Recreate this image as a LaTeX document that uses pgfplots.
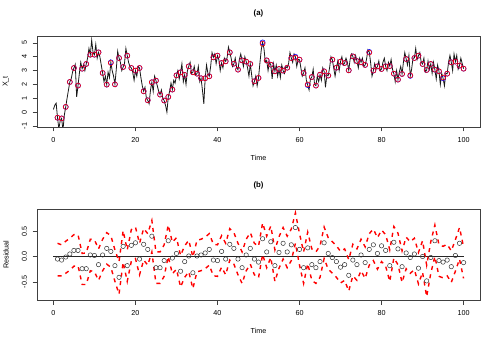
\documentclass[border=0pt]{standalone}
\usepackage{fontspec}
\setmainfont{Liberation Sans}
\usepackage{pgfplots}
\usepackage{pgfplotstable}
\pgfplotsset{compat=1.18}

% observed (blue) and filtered (red) values at integer times
\pgfplotstableread{
t blue red
1 -0.40 -0.40
2 -0.45 -0.45
3 0.38 0.38
4 2.18 2.18
5 3.19 3.19
6 1.92 1.92
7 3.14 3.14
8 3.48 3.48
9 4.15 4.15
10 4.15 4.15
11 4.32 4.32
12 2.83 2.83
13 1.99 1.99
14 3.60 3.55
15 2.01 2.01
16 3.91 3.91
17 3.26 3.26
18 4.08 4.08
19 3.19 3.19
20 3.00 3.00
21 3.19 3.19
22 1.51 1.51
23 0.86 0.86
24 2.16 2.16
25 2.28 2.28
26 1.27 1.27
27 0.84 0.84
28 1.10 1.10
29 1.63 1.63
30 2.66 2.66
31 2.88 2.88
32 2.69 2.69
33 3.31 3.31
34 2.88 2.88
35 2.78 2.78
36 2.45 2.45
37 2.45 2.45
38 2.59 2.59
39 3.96 3.96
40 4.08 4.08
41 3.55 3.55
42 3.67 3.67
43 4.32 4.32
44 3.50 3.50
45 3.07 3.07
46 3.74 3.74
47 3.65 3.65
48 3.48 3.48
49 2.23 2.23
50 2.47 2.47
51 5.04 4.94
52 3.74 3.74
53 3.43 3.43
54 2.95 2.95
55 3.12 3.12
56 3.00 3.00
57 3.21 3.21
58 3.91 3.91
59 4.00 3.94
60 3.79 3.79
61 2.83 2.83
62 1.95 2.00
63 2.54 2.54
64 1.92 1.92
65 2.71 2.71
66 2.95 2.95
67 2.64 2.64
68 3.79 3.79
69 3.21 3.21
70 3.65 3.65
71 3.55 3.55
72 3.02 3.02
73 4.03 4.03
74 3.69 3.69
75 3.60 3.60
76 3.41 3.41
77 4.35 4.30
78 3.00 3.00
79 3.31 3.31
80 3.12 3.12
81 3.31 3.31
82 3.33 3.33
83 2.78 2.78
84 2.35 2.35
85 2.76 2.76
86 3.84 3.84
87 2.62 2.66
88 3.91 3.91
89 4.08 4.08
90 3.48 3.48
91 3.05 3.05
92 3.48 3.48
93 3.07 3.07
94 2.95 2.95
95 2.45 2.50
96 2.78 2.78
97 3.60 3.60
98 3.65 3.65
99 3.36 3.36
100 3.14 3.14
}\circtab

% residuals with upper and lower bands
\pgfplotstableread{
t r u l
1 -0.05 0.26 -0.38
2 -0.07 0.23 -0.38
3 -0.01 0.30 -0.33
4 0.05 0.36 -0.27
5 0.12 0.43 -0.19
6 0.12 0.43 -0.18
7 -0.24 0.06 -0.55
8 -0.24 0.07 -0.55
9 0.03 0.34 -0.28
10 0.02 0.33 -0.30
11 -0.16 0.15 -0.47
12 0.03 0.34 -0.28
13 0.16 0.47 -0.15
14 0.10 0.41 -0.21
15 -0.18 0.13 -0.49
16 -0.41 -0.10 -0.74
17 0.20 0.51 -0.11
18 -0.18 0.13 -0.49
19 0.22 0.53 -0.09
20 0.27 0.58 -0.04
21 -0.05 0.26 -0.36
22 0.24 0.55 -0.07
23 0.14 0.45 -0.17
24 0.40 0.71 0.09
25 -0.22 0.09 -0.53
26 -0.22 0.09 -0.53
27 -0.08 0.23 -0.39
28 0.31 0.62 0.00
29 -0.03 0.28 -0.34
30 0.06 0.37 -0.25
31 -0.29 0.02 -0.60
32 -0.10 0.21 -0.41
33 0.01 0.32 -0.30
34 -0.32 -0.01 -0.63
35 0.01 0.32 -0.30
36 0.03 0.34 -0.28
37 0.07 0.38 -0.24
38 0.14 0.45 -0.17
39 -0.07 0.24 -0.38
40 -0.08 0.23 -0.39
41 0.10 0.41 -0.21
42 -0.05 0.26 -0.36
43 0.24 0.55 -0.07
44 0.16 0.47 -0.15
45 -0.05 0.26 -0.36
46 -0.22 0.09 -0.53
47 0.03 0.34 -0.28
48 0.16 0.47 -0.15
49 -0.05 0.26 -0.36
50 -0.11 0.20 -0.42
51 0.35 0.66 0.04
52 0.09 0.40 -0.22
53 0.29 0.60 -0.02
54 -0.18 0.13 -0.49
55 0.08 0.39 -0.23
56 0.26 0.57 -0.05
57 0.09 0.40 -0.22
58 0.23 0.54 -0.08
59 0.57 0.86 0.26
60 0.14 0.45 -0.17
61 -0.22 0.09 -0.53
62 0.17 0.48 -0.14
63 -0.16 0.15 -0.47
64 -0.22 0.09 -0.53
65 -0.10 0.21 -0.41
66 0.27 0.58 -0.04
67 0.06 0.37 -0.25
68 -0.02 0.29 -0.33
69 -0.10 0.21 -0.41
70 -0.21 0.10 -0.52
71 -0.16 0.15 -0.47
72 -0.37 -0.06 -0.68
73 -0.07 0.24 -0.38
74 -0.16 0.15 -0.47
75 0.03 0.34 -0.28
76 -0.12 0.19 -0.43
77 0.14 0.45 -0.17
78 0.23 0.54 -0.08
79 0.06 0.37 -0.25
80 0.21 0.52 -0.10
81 0.12 0.43 -0.19
82 -0.18 0.13 -0.49
83 0.28 0.59 -0.03
84 0.15 0.46 -0.16
85 -0.20 0.11 -0.51
86 0.07 0.38 -0.24
87 -0.02 0.29 -0.33
88 0.05 0.36 -0.26
89 -0.23 0.08 -0.54
90 0.00 0.31 -0.31
91 -0.48 -0.17 -0.79
92 -0.02 0.29 -0.33
93 0.31 0.62 0.00
94 -0.08 0.23 -0.39
95 -0.11 0.20 -0.42
96 -0.07 0.24 -0.38
97 -0.20 0.11 -0.51
98 0.02 0.33 -0.29
99 0.26 0.57 -0.05
100 -0.12 0.19 -0.43
}\restab

\pgfplotsset{
  rplot/.style={
    scale only axis, width=443pt, height=91pt,
    xmin=-4, xmax=104, xtick={0,20,...,100},
    tick pos=left, tick align=outside, major tick length=4.5pt,
    axis line style={black!75, line width=0.7pt},
    tick style={black!75, line width=0.6pt},
    tick label style={font=\fontsize{7.2}{8}\selectfont},
    /pgf/number format/assume math mode=true,
    xticklabel style={yshift=-2pt},
    yticklabel style={rotate=90, anchor=south, yshift=2pt},
    xlabel={Time},
    xlabel style={at={(0.5,-0.34)}, anchor=center, font=\fontsize{7.2}{8}\selectfont},
    ylabel style={at={(-0.07,0.5)}, anchor=center, font=\fontsize{7.2}{8}\selectfont},
    title style={at={(0.5,1.187)}, anchor=center, font=\bfseries\fontsize{7.8}{9}\selectfont},
  }
}

\begin{document}
\begin{tikzpicture}
\path[use as bounding box] (0,0) rectangle (499pt,346pt);

\begin{axis}[rplot, at={(37pt,219pt)}, anchor=south west,
  ymin=-1.07, ymax=5.5, ytick={-1,0,...,5},
  title={(a)}, ylabel={X\_t}]
\addplot[black!90, line width=0.8pt, mark=none] coordinates {
(0,0.2) (0.33,0.5) (0.67,0.65) (1,-0.4) (1.33,-1.2) (1.67,-0.6) (2,-0.45) (2.33,-1.3) (2.67,-0.2)
(3,0.38) (3.33,1.0) (3.67,1.6) (4,2.18) (4.33,2.4) (4.67,2.9) (5,3.19) (5.33,3.45) (5.67,1.1)
(6,1.92) (6.33,2.8) (6.67,3.6) (7,3.14) (7.33,3.4) (7.67,3.0) (8,3.48) (8.33,3.9) (8.67,4.6)
(9,4.15) (9.33,5.2) (9.67,4.3) (10,4.15) (10.33,4.9) (10.67,3.9) (11,4.32) (11.33,4.0) (11.67,3.4)
(12,2.83) (12.33,2.2) (12.67,2.6) (13,1.99) (13.33,2.9) (13.67,2.5) (14,3.6) (14.33,3.0) (14.67,2.6)
(15,2.01) (15.33,3.1) (15.67,4.4) (16,3.91) (16.33,3.6) (16.67,3.0) (17,3.26) (17.33,3.5) (17.67,4.6)
(18,4.08) (18.33,3.6) (18.67,3.3) (19,3.19) (19.33,2.9) (19.67,2.3) (20,3.0) (20.33,2.6) (20.67,3.3)
(21,3.19) (21.33,2.5) (21.67,1.9) (22,1.51) (22.33,1.8) (22.67,1.0) (23,0.86) (23.33,0.6) (23.67,1.6)
(24,2.16) (24.33,1.5) (24.67,2.6) (25,2.28) (25.33,1.9) (25.67,1.5) (26,1.27) (26.33,1.6) (26.67,1.0)
(27,0.84) (27.33,0.5) (27.67,0.0) (28,1.1) (28.33,1.5) (28.67,2.1) (29,1.63) (29.33,2.3) (29.67,2.1)
(30,2.66) (30.33,3.0) (30.67,2.4) (31,2.88) (31.33,3.5) (31.67,2.2) (32,2.69) (32.33,2.0) (32.67,3.0)
(33,3.31) (33.33,3.6) (33.67,2.8) (34,2.88) (34.33,3.3) (34.67,2.7) (35,2.78) (35.33,3.3) (35.67,2.2)
(36,2.45) (36.33,1.6) (36.67,0.6) (37,2.45) (37.33,3.4) (37.67,2.8) (38,2.59) (38.33,3.3) (38.67,4.3)
(39,3.96) (39.33,4.2) (39.67,3.5) (40,4.08) (40.33,3.8) (40.67,3.0) (41,3.55) (41.33,3.2) (41.67,3.9)
(42,3.67) (42.33,3.9) (42.67,4.7) (43,4.32) (43.33,3.9) (43.67,3.3) (44,3.5) (44.33,3.9) (44.67,3.2)
(45,3.07) (45.33,3.8) (45.67,4.2) (46,3.74) (46.33,3.3) (46.67,4.0) (47,3.65) (47.33,3.2) (47.67,2.6)
(48,3.48) (48.33,2.7) (48.67,1.9) (49,2.23) (49.33,2.6) (49.67,1.9) (50,2.47) (50.33,3.5) (50.67,4.5)
(51,5.04) (51.33,4.6) (51.67,3.6) (52,3.74) (52.33,3.0) (52.67,3.6) (53,3.43) (53.33,2.4) (53.67,3.5)
(54,2.95) (54.33,3.4) (54.67,2.6) (55,3.12) (55.33,2.5) (55.67,3.4) (56,3.0) (56.33,2.8) (56.67,3.3)
(57,3.21) (57.33,3.5) (57.67,4.3) (58,3.91) (58.33,3.6) (58.67,4.2) (59,4.0) (59.33,3.3) (59.67,3.8)
(60,3.79) (60.33,3.2) (60.67,2.6) (61,2.83) (61.33,3.2) (61.67,2.3) (62,1.95) (62.33,1.6) (62.67,2.4)
(63,2.54) (63.33,3.1) (63.67,2.0) (64,1.92) (64.33,2.6) (64.67,2.2) (65,2.71) (65.33,2.3) (65.67,3.2)
(66,2.95) (66.33,1.8) (66.67,2.7) (67,2.64) (67.33,3.2) (67.67,4.0) (68,3.79) (68.33,3.2) (68.67,2.6)
(69,3.21) (69.33,3.7) (69.67,3.0) (70,3.65) (70.33,4.0) (70.67,3.4) (71,3.55) (71.33,3.9) (71.67,3.6)
(72,3.02) (72.33,3.8) (72.67,4.2) (73,4.03) (73.33,3.6) (73.67,4.1) (74,3.69) (74.33,3.2) (74.67,3.9)
(75,3.6) (75.33,3.9) (75.67,3.3) (76,3.41) (76.33,3.8) (76.67,4.5) (77,4.35) (77.33,3.6) (77.67,2.6)
(78,3.0) (78.33,3.5) (78.67,3.1) (79,3.31) (79.33,3.7) (79.67,3.0) (80,3.12) (80.33,3.6) (80.67,3.9)
(81,3.31) (81.33,3.0) (81.67,3.6) (82,3.33) (82.33,3.8) (82.67,3.1) (83,2.78) (83.33,2.2) (83.67,3.0)
(84,2.35) (84.33,2.9) (84.67,3.3) (85,2.76) (85.33,3.6) (85.67,4.3) (86,3.84) (86.33,3.4) (86.67,4.1)
(87,2.62) (87.33,3.1) (87.67,3.9) (88,3.91) (88.33,4.6) (88.67,3.8) (89,4.08) (89.33,4.3) (89.67,3.6)
(90,3.48) (90.33,3.9) (90.67,2.9) (91,3.05) (91.33,3.7) (91.67,3.1) (92,3.48) (92.33,2.8) (92.67,3.6)
(93,3.07) (93.33,2.4) (93.67,3.4) (94,2.95) (94.33,2.0) (94.67,2.8) (95,2.45) (95.33,1.9) (95.67,2.8)
(96,2.78) (96.33,3.6) (96.67,4.1) (97,3.6) (97.33,3.0) (97.67,4.2) (98,3.65) (98.33,4.1) (98.67,3.1)
(99,3.36) (99.33,3.9) (99.67,3.5) (100,3.14)
};
\addplot[only marks, mark=o, mark size=2.5pt, blue, mark options={line width=0.6pt}] table[x=t, y=blue] {\circtab};
\addplot[only marks, mark=o, mark size=2.5pt, red, mark options={line width=0.6pt}] table[x=t, y=red] {\circtab};
\end{axis}

\begin{axis}[rplot, at={(37pt,46pt)}, anchor=south west,
  ymin=-0.856, ymax=0.935, ytick={-0.5,0,0.5},
  yticklabel style={/pgf/number format/.cd, fixed, fixed zerofill, precision=1},
  title={(b)}, ylabel={Residual}]
\addplot[black!85, line width=1.3pt, mark=none] coordinates {(0,0) (100,0)};
\addplot[only marks, mark=o, mark size=2.2pt, black!80, mark options={line width=0.5pt}] table[x=t, y=r] {\restab};
\addplot[red, line width=1.4pt, dash pattern=on 4pt off 4.5pt, mark=none] table[x=t, y=u] {\restab};
\addplot[red, line width=1.4pt, dash pattern=on 4pt off 4.5pt, mark=none] table[x=t, y=l] {\restab};
\end{axis}
\end{tikzpicture}
\end{document}
